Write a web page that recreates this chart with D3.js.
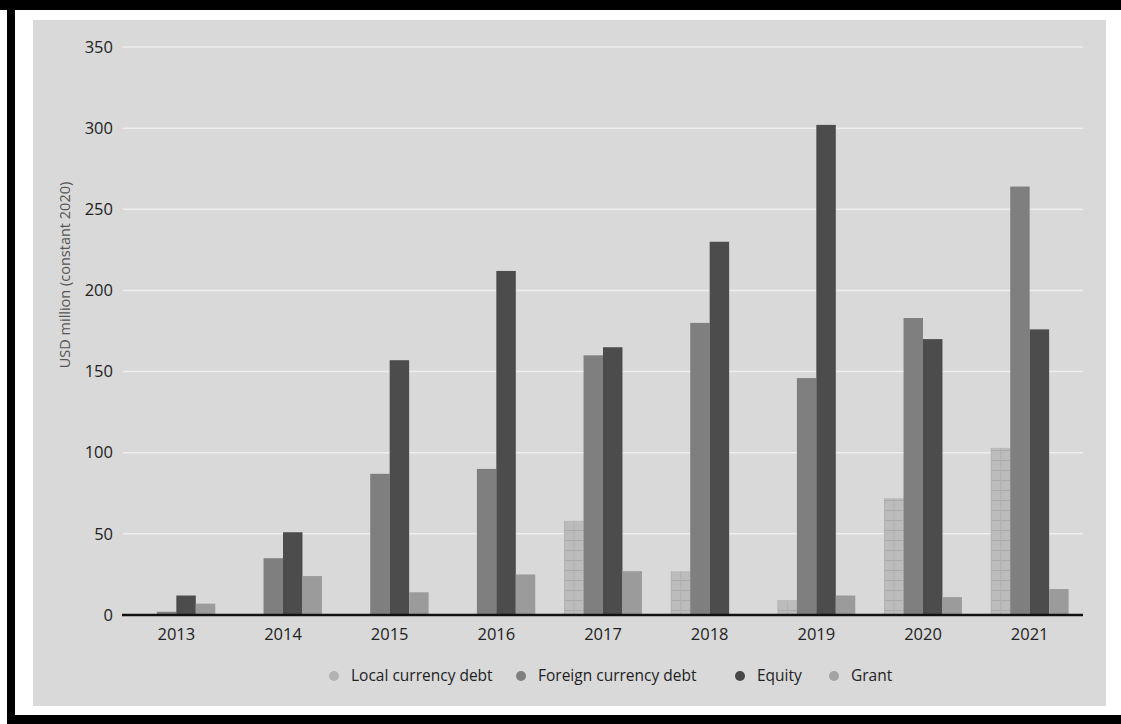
<!DOCTYPE html>
<html>
<head>
<meta charset="utf-8">
<script src="https://cdn.jsdelivr.net/npm/d3@7"></script>
<style>
  html, body { margin: 0; padding: 0; background: #fff; }
  svg { display: block; }
  text { font-family: "Open Sans", "Noto Sans", sans-serif; }
</style>
</head>
<body>
<svg id="chart" width="1121" height="724"></svg>
<script>
// Investment by instrument, 2013–2021 (USD million, constant 2020)
const years = ["2013", "2014", "2015", "2016", "2017", "2018", "2019", "2020", "2021"];
const seriesNames = ["Local currency debt", "Foreign currency debt", "Equity", "Grant"];
const localCurrencyDebt   = [0, 0, 0, 0, 58, 27, 9, 72, 103];
const foreignCurrencyDebt = [2, 35, 87, 90, 160, 180, 146, 183, 264];
const equity              = [12, 51, 157, 212, 165, 230, 302, 170, 176];
const grant               = [7, 24, 14, 25, 27, 0, 12, 11, 16];
const yTicks = [0, 50, 100, 150, 200, 250, 300, 350];

const seriesValues = [localCurrencyDebt, foreignCurrencyDebt, equity, grant];
const barFill = ["url(#localHatch)", "#7f7f7f", "#4c4c4c", "#9b9b9b"];
const dotFill = ["#b2b2b2", "#7f7f7f", "#474747", "#a3a3a3"];

const svg = d3.select("#chart");

// Frame and panel
svg.append("rect").attr("x", 0).attr("y", 0).attr("width", 1121).attr("height", 724).attr("fill", "#fff");
svg.append("rect").attr("x", 0).attr("y", 0).attr("width", 1121).attr("height", 10).attr("fill", "#000");
svg.append("rect").attr("x", 7).attr("y", 0).attr("width", 8).attr("height", 724).attr("fill", "#000");
svg.append("rect").attr("x", 7).attr("y", 715).attr("width", 1114).attr("height", 9).attr("fill", "#000");
svg.append("rect").attr("x", 33).attr("y", 20).attr("width", 1073).attr("height", 686).attr("fill", "#d9d9d9");

// Checked fill for local currency debt
const defs = svg.append("defs");
const pat = defs.append("pattern")
  .attr("id", "localHatch")
  .attr("patternUnits", "userSpaceOnUse")
  .attr("width", 9.5).attr("height", 10);
pat.append("rect").attr("width", 9.5).attr("height", 10).attr("fill", "#bcbcbc");
pat.append("line").attr("x1", 0).attr("x2", 9.5).attr("y1", 0.5).attr("y2", 0.5)
  .attr("stroke", "#a9a9a9").attr("stroke-width", 1);
pat.append("line").attr("x1", 0.5).attr("x2", 0.5).attr("y1", 0).attr("y2", 10)
  .attr("stroke", "#afafaf").attr("stroke-width", 1);

const margin = { left: 123, right: 1083, top: 47, bottom: 615 };

const x0 = d3.scaleBand().domain(years).range([margin.left, margin.right]).paddingInner(0.27).paddingOuter(0.135);
const x1 = d3.scaleBand().domain(d3.range(seriesNames.length)).range([0, x0.bandwidth()]);
const y = d3.scaleLinear().domain([0, 350]).range([margin.bottom, margin.top]);

// Gridlines
svg.append("g")
  .selectAll("line")
  .data(yTicks.filter(d => d > 0))
  .join("line")
  .attr("x1", margin.left).attr("x2", margin.right)
  .attr("y1", d => y(d)).attr("y2", d => y(d))
  .attr("stroke", "#eeeeee").attr("stroke-width", 1.5);

// Y axis labels
const yAxis = d3.axisLeft(y).tickValues(yTicks).tickSize(0).tickPadding(10);
const yg = svg.append("g").attr("transform", `translate(${margin.left},0)`).call(yAxis);
yg.select(".domain").remove();
yg.selectAll("text").attr("font-size", 16.5).attr("fill", "#222").attr("font-weight", 500);

// Bars
const groups = svg.append("g")
  .selectAll("g")
  .data(years)
  .join("g")
  .attr("transform", d => `translate(${x0(d)},0)`);

groups.selectAll("rect")
  .data((yr, i) => seriesValues.map((vals, s) => ({ s, v: vals[i] })))
  .join("rect")
  .attr("x", d => x1(d.s))
  .attr("width", x1.bandwidth())
  .attr("y", d => y(d.v))
  .attr("height", d => y(0) - y(d.v))
  .attr("fill", d => barFill[d.s]);

// Baseline
svg.append("line")
  .attr("x1", margin.left - 1).attr("x2", margin.right)
  .attr("y1", y(0)).attr("y2", y(0))
  .attr("stroke", "#111").attr("stroke-width", 2.5);

// X axis labels
const xAxis = d3.axisBottom(x0).tickSize(0).tickPadding(13);
const xg = svg.append("g").attr("transform", `translate(0,${y(0)})`).call(xAxis);
xg.select(".domain").remove();
xg.selectAll("text").attr("font-size", 16.5).attr("fill", "#222").attr("font-weight", 500);

// Y axis title
svg.append("text")
  .attr("transform", "translate(70,275) rotate(-90)")
  .attr("text-anchor", "middle")
  .attr("font-size", 14.5)
  .attr("fill", "#555")
  .text("USD million (constant 2020)");

// Legend
const legendX = [334, 521, 740, 834];
const legend = svg.append("g")
  .selectAll("g")
  .data(seriesNames)
  .join("g")
  .attr("transform", (d, i) => `translate(${legendX[i]},676)`);
legend.append("circle").attr("r", 5).attr("fill", (d, i) => dotFill[i]);
legend.append("text")
  .attr("x", 17).attr("dy", "0.35em")
  .attr("font-size", 15.5).attr("fill", "#222")
  .text(d => d);
</script>
</body>
</html>
